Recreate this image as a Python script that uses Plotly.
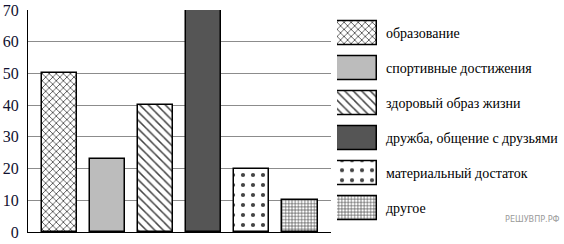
import plotly.graph_objects as go

categories = ["образование", "спортивные достижения", "здоровый образ жизни",
              "дружба, общение с друзьями", "материальный достаток", "другое"]
values = [50, 23, 40, 70, 20, 10]
y_ticks = [0, 10, 20, 30, 40, 50, 60, 70]

colors = ["white", "#bcbcbc", "white", "#555555", "white", "white"]
pat_shapes = ["x", "", "\\", "", ".", "+"]
pat_sizes = [5, 6, 6, 6, 10, 3.2]
pat_solid = [0.3, 0.2, 0.25, 0.2, 0.14, 0.35]

W, H = 564, 244
idx = list(range(len(categories)))

pattern = dict(shape=pat_shapes, size=pat_sizes, solidity=pat_solid,
               fgcolor="black", fgopacity=1, fillmode="overlay")

fig = go.Figure()
fig.add_trace(go.Bar(
    x=idx, y=values, width=0.73, cliponaxis=False,
    marker=dict(color=colors, line=dict(color="black", width=1.5), pattern=pattern),
    xaxis="x", yaxis="y", showlegend=False, hoverinfo="skip"))
fig.add_trace(go.Bar(
    y=categories, x=[1] * len(categories), orientation="h", width=0.684,
    marker=dict(color=colors, line=dict(color="black", width=1.5), pattern=pattern),
    xaxis="x2", yaxis="y2", showlegend=False, hoverinfo="skip"))

x0, x1 = 28, 331
px_per = 48.1
c0 = 59.5
yt, yb = 10, 232
font = "Liberation Serif"

fig.update_layout(
    width=W, height=H, margin=dict(l=0, r=0, t=0, b=0, autoexpand=False),
    paper_bgcolor="white", plot_bgcolor="white",
    font=dict(family=font),
    bargap=0, showlegend=False,
    xaxis=dict(domain=[x0 / W, x1 / W], automargin=False,
               range=[(x0 - c0) / px_per, (x1 - c0) / px_per],
               showticklabels=False, showgrid=False, zeroline=False,
               showline=True, linecolor="black", linewidth=1.2, ticks=""),
    yaxis=dict(domain=[(H - yb) / H, (H - yt) / H], range=[0, 70], automargin=False,
               tickvals=y_ticks, showgrid=True, gridcolor="#8c8c8c", gridwidth=1,
               zeroline=False, showline=True, linecolor="black", linewidth=1.2,
               ticks="", ticklabelstandoff=5,
               tickfont=dict(family=font, size=16, color="#101030")),
    xaxis2=dict(domain=[337 / W, 377 / W], range=[0, 1], visible=False, automargin=False),
    yaxis2=dict(domain=[(H - 225.9) / H, (H - 15.25) / H], range=[5.5, -0.5],
                anchor="x2", side="right", showgrid=False, zeroline=False, automargin=False,
                showline=False, ticks="", ticklabelstandoff=8,
                tickfont=dict(family=font, size=14, color="black")),
    annotations=[dict(text="РЕШУВПР.РФ", x=562 / W, y=(H - 219) / H, xref="paper",
                      yref="paper", xanchor="right", yanchor="middle", showarrow=False,
                      font=dict(family="DejaVu Sans Condensed", size=9,
                                color="#9a9a9a"))],
)

fig.write_html("out.html")
